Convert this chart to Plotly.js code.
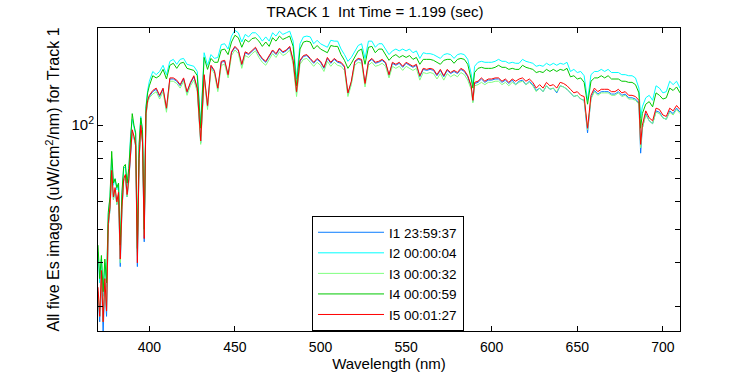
<!DOCTYPE html>
<html>
<head>
<meta charset="utf-8">
<script src="https://cdn.plot.ly/plotly-3.0.1.min.js"></script>
<style>html,body{margin:0;padding:0;background:#fff;}#chart{width:750px;height:375px;}</style>
</head>
<body>
<div id="chart"></div>
<script>
// Wavelength grid (nm)
const WAVELENGTH = [
370,371,372,373,374,375,376,377,378,379,380,381,382,383,384,385,386,387,388,389,390,391,392,393,394,395,396,397,398,399,400,
402,404,406,408,410,412,414,416,418,420,422,424,426,428,430,432,434,436,438,440,
442,444,446,448,450,452,454,456,458,460,462,464,466,468,470,472,474,476,478,480,
482,484,486,488,490,492,494,496,498,500,502,504,506,508,510,512,514,516,518,520,
522,524,526,528,530,532,534,536,538,540,542,544,546,548,550,552,554,556,558,560,
562,564,566,568,570,572,574,576,578,580,582,584,586,588,
589,
590,592,594,596,598,600,602,604,606,608,610,612,614,616,618,620,622,624,626,628,630,632,634,636,638,640,
642,644,646,648,650,652,654,656,658,660,662,664,666,668,670,672,674,676,678,680,682,684,686,
687,
688,690,692,694,696,698,700,702,704,706,708,710
];

const I1_235937 = [
33,27,37,25,35,28,51,57,73,61,65,59,63,39,57,69,71,62,69,85,96,92,87,39,79,99,89,46,107,117,121,
125,127,121,127,111,136,136,134,130,136,124,132,138,127,89,139,113,148,143,127,
152,153,139,162,168,164,149,162,160,164,167,160,155,152,158,164,160,166,162,164,
168,153,124,153,158,159,155,151,155,152,146,156,151,155,152,151,147,123,133,152,
155,154,131,152,155,151,152,154,151,139,151,149,151,147,151,149,147,149,138,145,
144,145,144,139,144,138,144,141,143,141,145,143,138,129,
117,
132,133,136,133,135,135,136,136,133,135,132,135,131,134,135,131,134,131,126,128,125,130,127,128,124,130,
129,127,124,121,122,119,118,95,120,126,123,125,125,125,123,123,125,122,123,120,120,119,116,
83,
98,108,103,101,110,109,105,104,110,108,112,109
];

const I2_000004 = [
43,35,41,32,40,34,55,62,80,67,70,65,68,44,63,75,76,67,74,93,104,99,94,43,87,106,96,49,113,126,134,
143,140,143,149,140,153,155,150,155,156,150,149,148,143,100,162,149,160,156,157,
171,172,166,181,188,185,174,183,180,185,185,181,175,180,175,185,181,187,183,185,
187,175,136,172,180,181,180,172,176,172,170,168,176,175,175,166,160,153,157,164,
170,172,156,175,175,168,172,172,166,160,164,166,164,166,164,166,162,164,156,162,
161,161,160,158,156,160,161,160,156,160,161,160,155,141,
130,
148,152,153,152,152,152,153,155,153,153,151,152,151,151,155,153,152,151,148,149,148,151,149,151,149,151,
150,152,143,145,142,143,139,118,140,143,143,145,143,145,142,142,142,140,140,139,139,137,128,
105,
113,120,122,118,130,128,124,125,134,131,134,128
];

const I3_000032 = [
33,28,37,27,35,29,51,57,72,61,65,59,63,40,57,69,71,62,69,85,95,92,87,42,79,98,89,48,106,116,120,
123,125,119,125,109,134,134,132,128,134,122,130,135,125,88,137,111,146,141,125,
149,150,137,159,165,161,146,159,157,161,164,157,152,149,155,161,157,163,159,161,
165,150,121,150,155,156,152,148,152,149,143,153,148,152,149,148,144,121,131,149,
152,151,129,149,152,148,149,151,148,137,148,146,148,144,148,146,144,146,135,142,
141,142,141,136,141,135,141,138,140,138,142,140,135,127,
116,
130,131,133,131,133,133,134,134,131,133,130,133,131,133,134,131,133,130,125,128,125,130,127,128,125,130,
129,127,124,121,122,119,118,97,119,125,122,124,124,124,122,122,124,121,122,119,119,118,115,
86,
98,107,103,101,109,108,105,104,109,107,111,108
];

const I4_000059 = [
45,36,42,33,41,35,56,62,84,68,70,66,68,45,64,76,77,68,75,92,108,100,95,44,88,105,97,50,112,124,130,
139,137,139,145,136,149,151,146,151,152,146,145,144,139,98,157,145,156,152,152,
165,166,160,174,182,179,168,177,174,178,179,175,169,174,169,179,175,181,177,179,
181,169,130,166,174,175,174,166,170,166,164,162,170,169,169,160,154,146,151,158,
164,166,150,168,169,162,166,166,160,154,158,160,157,159,157,159,155,157,150,155,
155,155,154,152,150,154,155,155,151,155,156,155,150,136,
128,
142,146,147,146,146,146,147,149,147,147,145,146,145,145,149,147,146,145,142,143,142,145,143,145,143,145,
144,146,138,139,136,137,133,115,134,137,137,139,137,139,136,136,136,134,134,133,133,131,124,
98,
108,115,117,113,124,122,119,120,128,126,129,124
];

const I5_000127 = [
34,28,38,27,36,29,52,58,74,62,66,60,64,41,58,70,72,63,70,86,97,93,88,40,80,100,90,47,108,118,122,
126,128,122,128,112,137,137,135,131,137,125,133,139,128,90,140,114,149,144,128,
153,154,140,163,169,165,150,163,161,165,168,161,156,153,159,165,161,167,163,165,
169,154,125,154,159,160,156,152,156,153,147,157,152,156,153,152,148,124,134,153,
156,155,132,153,156,152,153,155,152,140,152,150,152,148,152,150,148,150,139,146,
145,146,145,140,145,139,145,142,144,142,146,144,139,130,
118,
133,134,137,134,136,136,137,137,134,136,133,136,134,136,137,134,136,133,128,131,128,133,130,131,128,133,
132,130,127,124,125,122,121,98,122,128,125,127,127,127,125,125,127,124,125,122,122,121,118,
88,
100,110,105,103,112,111,107,106,112,110,114,111
];

const SERIES_NAMES = ['I1 23:59:37','I2 00:00:04','I3 00:00:32','I4 00:00:59','I5 00:01:27'];
const SERIES_COLORS = ['#0a7cff','#00ffff','#80ff80','#00c800','#ff0000'];
const SERIES_VALUES = [I1_235937, I2_000004, I3_000032, I4_000059, I5_000127];

const X_TICKS = [400,450,500,550,600,650,700];
const Y_MAJOR_TICKS = [100];
const Y_MAJOR_TEXT = ['10<sup>2</sup>'];
const Y_MINOR_TICKS = [30,40,50,60,70,80,90];

const traces = SERIES_VALUES.map((v,i)=>({
  x: WAVELENGTH, y: v, type:'scatter', mode:'lines',
  name: SERIES_NAMES[i],
  line:{color:SERIES_COLORS[i], width:1}
}));

const FONT = 'Liberation Sans, Arial, Helvetica, sans-serif';
const layout = {
  width:750, height:375,
  margin:{l:98, r:70, t:28, b:44, pad:0},
  paper_bgcolor:'#ffffff', plot_bgcolor:'#ffffff',
  font:{family:FONT, size:14, color:'#000'},
  showlegend:true,
  title:{text:'TRACK 1\u00a0 Int Time = 1.199 (sec)', x:0.5, xref:'container', xanchor:'center',
         y:1-12/375, yref:'container', yanchor:'middle', font:{family:FONT, size:15, color:'#000'}},
  xaxis:{range:[370,710], tickmode:'array', tickvals:X_TICKS, ticks:'inside', ticklen:5, tickcolor:'#000',
         mirror:'ticks', showline:true, linecolor:'#000', linewidth:1, showgrid:false, zeroline:false,
         tickfont:{size:14}, ticklabelstandoff:3,
         title:{text:'Wavelength (nm)', font:{size:15}, standoff:3}},
  yaxis:{type:'log', range:[Math.log10(25.4), Math.log10(191)], tickmode:'array',
         tickvals:Y_MAJOR_TICKS, ticktext:Y_MAJOR_TEXT,
         minor:{tickmode:'array', tickvals:Y_MINOR_TICKS, ticks:'inside', ticklen:5, tickcolor:'#000', showgrid:false},
         ticks:'inside', ticklen:5, tickcolor:'#000', mirror:'ticks', showline:true, linecolor:'#000', linewidth:1,
         showgrid:false, zeroline:false, tickfont:{size:15},
         title:{text:'All five Es images (uW/cm<sup>2</sup>/nm) for Track 1', font:{size:16}, standoff:7}},
  legend:{x:(312-98)/582, y:1-(216-28)/303, xanchor:'left', yanchor:'top', bgcolor:'#ffffff',
          bordercolor:'#000', borderwidth:1, font:{size:13.5}, itemwidth:66, tracegroupgap:0}
};

Plotly.newPlot('chart', traces, layout, {staticPlot:true, displayModeBar:false});
</script>
</body>
</html>
